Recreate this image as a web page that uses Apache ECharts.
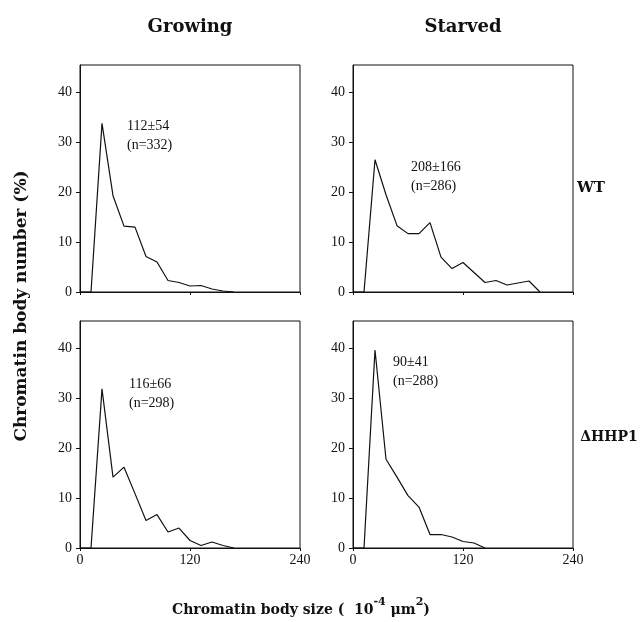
<!DOCTYPE html>
<html>
<head>
<meta charset="utf-8">
<script src="https://cdn.jsdelivr.net/npm/echarts@6/dist/echarts.min.js"></script>
<style>
  html, body { margin: 0; padding: 0; background: #fff; }
  #main { width: 644px; height: 622px; }
</style>
</head>
<body>
<div id="main"></div>
<script>
// bin sizes (10^-4 um^2), shared by all four histograms
var binSizes = [0, 12, 24, 36, 48, 60, 72, 84, 96, 108, 120, 132, 144, 156, 168, 180, 192, 204];

// percent of chromatin bodies per bin
var wtGrowing    = [0, 0, 33.8, 19.3, 13.2, 13.0, 7.1, 6.0, 2.3, 1.9, 1.2, 1.3, 0.6, 0.2, 0];
var wtStarved    = [0, 0, 26.5, 19.5, 13.3, 11.7, 11.7, 13.9, 7.0, 4.7, 5.9, 3.9, 1.9, 2.3, 1.4, 1.8, 2.2, 0];
var hhpGrowing   = [0, 0, 31.9, 14.2, 16.2, 10.9, 5.5, 6.7, 3.2, 4.0, 1.5, 0.5, 1.2, 0.5, 0];
var hhpStarved   = [0, 0, 39.7, 17.8, 14.2, 10.5, 8.2, 2.7, 2.7, 2.2, 1.3, 1.0, 0];

var panelStats = [
  ['112\u00b154', '(n=332)'],
  ['208\u00b1166', '(n=286)'],
  ['116\u00b166', '(n=298)'],
  ['90\u00b141', '(n=288)']
];
var xTicks = [0, 120, 240];
var yTicks = [0, 10, 20, 30, 40];

var serif = '"Liberation Serif", "DejaVu Serif", serif';
var heavy = '"DejaVu Serif", serif';

function pairs(vals) {
  var out = [];
  for (var i = 0; i < vals.length; i++) out.push([binSizes[i], vals[i]]);
  return out;
}

var grids = [
  { left: 80, top: 65, width: 220, height: 227 },
  { left: 353, top: 65, width: 220, height: 227 },
  { left: 80, top: 321, width: 220, height: 227 },
  { left: 353, top: 321, width: 220, height: 227 }
];
grids.forEach(function (g) { g.show = true; g.borderColor = '#111'; g.borderWidth = 1; g.backgroundColor = '#fff'; });

var xAxes = [], yAxes = [], series = [];
var allData = [wtGrowing, wtStarved, hhpGrowing, hhpStarved];
for (var k = 0; k < 4; k++) {
  xAxes.push({
    type: 'value', gridIndex: k, min: xTicks[0], max: xTicks[2], interval: 120,
    axisLine: { lineStyle: { color: '#111', width: 1 } },
    axisTick: { show: true, length: 3, lineStyle: { color: '#111' } },
    axisLabel: { show: k >= 2, color: '#111', fontFamily: serif, fontSize: 14, margin: 5 },
    splitLine: { show: false }
  });
  yAxes.push({
    type: 'value', gridIndex: k, min: yTicks[0], max: 45.5, interval: 10,
    axisLine: { show: true, lineStyle: { color: '#111', width: 1 } },
    axisTick: { show: true, length: 4, customValues: yTicks, lineStyle: { color: '#111' } },
    axisLabel: { color: '#111', fontFamily: serif, fontSize: 14, margin: 8, customValues: yTicks },
    splitLine: { show: false }
  });
  series.push({
    type: 'line', xAxisIndex: k, yAxisIndex: k, data: pairs(allData[k]),
    symbol: 'none', lineStyle: { color: '#111', width: 1.2 }, animation: false
  });
}

var statPos = [[127, 126], [411, 167], [129, 384], [393, 362]];
var graphics = [];
statPos.forEach(function (p, i) {
  graphics.push({ type: 'text', left: p[0], top: p[1] - 9,
    style: { text: panelStats[i][0] + '\n' + panelStats[i][1], font: '14px ' + serif, fill: '#111', lineHeight: 19 } });
});
graphics.push(
  { type: 'text', x: 190, y: 27, style: { text: 'Growing', font: 'bold 18px ' + heavy, fill: '#111', align: 'center', verticalAlign: 'middle' } },
  { type: 'text', x: 463, y: 27, style: { text: 'Starved', font: 'bold 18px ' + heavy, fill: '#111', align: 'center', verticalAlign: 'middle' } },
  { type: 'text', x: 591, y: 188, style: { text: 'WT', font: 'bold 15px ' + heavy, fill: '#111', align: 'center', verticalAlign: 'middle' } },
  { type: 'text', x: 609, y: 437, style: { text: '\u0394HHP1', font: 'bold 14px ' + heavy, fill: '#111', align: 'center', verticalAlign: 'middle' } },
  { type: 'text', x: 22, y: 306, rotation: Math.PI / 2,
    style: { text: 'Chromatin body number (%)', font: 'bold 17px ' + heavy, fill: '#111', align: 'center', verticalAlign: 'middle' } },
  { type: 'text', x: 301, y: 607,
    style: {
      text: '{b|Chromatin body size (  10}{s|-4}{b| \u03bcm}{s|2}{b|)}',
      align: 'center', verticalAlign: 'middle',
      rich: {
        b: { font: 'bold 14px ' + heavy, fill: '#111', lineHeight: 20, verticalAlign: 'bottom' },
        s: { font: 'bold 11px ' + heavy, fill: '#111', lineHeight: 20, verticalAlign: 'top' }
      }
    } }
);

var chart = echarts.init(document.getElementById('main'), null, { renderer: 'canvas' });
chart.setOption({
  backgroundColor: '#fff',
  animation: false,
  grid: grids,
  xAxis: xAxes,
  yAxis: yAxes,
  series: series,
  graphic: graphics
});
</script>
</body>
</html>
